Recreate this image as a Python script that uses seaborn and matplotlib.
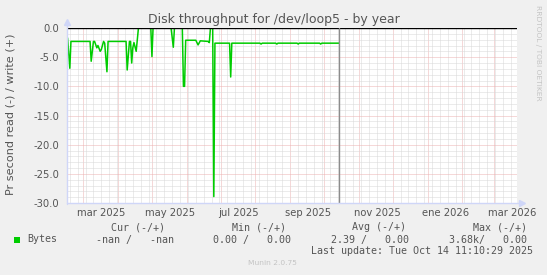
import matplotlib
matplotlib.use("Agg")
import matplotlib.pyplot as plt
import matplotlib.dates as mdates
from matplotlib.patches import Rectangle
from matplotlib.transforms import blended_transform_factory
import seaborn as sns
import pandas as pd

# ---------------- data ----------------
dates = ["2025-02-15", "2025-02-17", "2025-02-18", "2025-03-07", "2025-03-08",
         "2025-03-10", "2025-03-11", "2025-03-13", "2025-03-14", "2025-03-16",
         "2025-03-17", "2025-03-19", "2025-03-20", "2025-03-22", "2025-03-23",
         "2025-04-08", "2025-04-09", "2025-04-11", "2025-04-12", "2025-04-13",
         "2025-04-14", "2025-04-15", "2025-04-17", "2025-04-19", "2025-04-30",
         "2025-05-01", "2025-05-02", "2025-05-18", "2025-05-20", "2025-05-21",
         "2025-05-28", "2025-05-29", "2025-05-30", "2025-05-31", "2025-06-09",
         "2025-06-11", "2025-06-13", "2025-06-20", "2025-06-21", "2025-06-22",
         "2025-06-24", "2025-06-25", "2025-06-26", "2025-07-09", "2025-07-10",
         "2025-07-11", "2025-08-05", "2025-08-06", "2025-08-07", "2025-08-19",
         "2025-08-20", "2025-08-21", "2025-09-07", "2025-09-08", "2025-09-09",
         "2025-09-27", "2025-09-28", "2025-09-29", "2025-10-14"]
read_values = [-1.7, -6.9, -2.3, -2.3, -5.7,
               -2.3, -2.3, -3.4, -3.0, -4.0,
               -3.7, -2.3, -2.6, -7.5, -2.3,
               -2.3, -7.2, -2.3, -2.3, -6.0,
               -3.4, -2.5, -4.0, 0.0, 0.0,
               -4.9, 0.0, 0.0, -3.3, 0.0,
               0.0, -10.0, -10.0, -2.1, -2.1,
               -2.9, -2.2, -2.3, -2.5, 0.0,
               0.0, -28.9, -2.6, -2.6, -8.4,
               -2.6, -2.6, -2.75, -2.6, -2.6,
               -2.75, -2.6, -2.6, -2.75, -2.6,
               -2.6, -2.75, -2.6, -2.6]

month_labels = ["mar 2025", "may 2025", "jul 2025", "sep 2025",
                "nov 2025", "ene 2026", "mar 2026"]
month_label_dates = ["2025-03-17", "2025-05-17", "2025-07-17", "2025-09-17",
                     "2025-11-17", "2026-01-17", "2026-03-17"]
y_ticks = [0, -5, -10, -15, -20, -25, -30]

title = "Disk throughput for /dev/loop5 - by year"
ylabel = "Pr second read (-) / write (+)"
legend_name = "Bytes"
col_headers = ["Cur (-/+)", "Min (-/+)", "Avg (-/+)", "Max (-/+)"]
col_values = ["-nan /   -nan", "0.00 /   0.00", "2.39 /   0.00", "3.68k/   0.00"]
last_update = "Last update: Tue Oct 14 11:10:29 2025"
now_time = "2025-10-14 11:10:29"
x_start, x_end = "2025-02-14 12:00", "2026-03-21 12:00"

# ---------------- style ----------------
sns.set_theme(style="white")
plt.rcParams["font.family"] = ["DejaVu Sans"]
plt.rcParams["axes.unicode_minus"] = False

W, H = 547, 275
BG = "#F0F0F0"
FONT = "#555555"
AXIS = "#CFD6F8"
MGRID = "#ECB2B2"
GRID = "#D9D9D9"
GREEN = "#00CC00"

fig = plt.figure(figsize=(W / 100, H / 100), dpi=100, facecolor=BG)
ax = fig.add_axes([67 / W, 72 / H, 450 / W, 175 / H])
ax.set_facecolor("white")

df = pd.DataFrame({"date": pd.to_datetime(dates), "value": read_values})
sns.lineplot(data=df, x="date", y="value", ax=ax, color=GREEN, lw=1.1, zorder=3)

ax.set_xlim(pd.Timestamp(x_start), pd.Timestamp(x_end))
ax.set_ylim(-30, 0)

# grids
ax.xaxis.set_major_locator(mdates.MonthLocator())
ax.xaxis.set_minor_locator(mdates.WeekdayLocator(byweekday=mdates.MO))
ax.xaxis.set_major_formatter(plt.NullFormatter())
ax.set_yticks(y_ticks)
ax.set_yticks(range(-30, 1), minor=True)
ax.set_yticklabels([f"{v:.1f}" for v in y_ticks])
dot = (0, (1, 1))
ax.grid(True, which="minor", color=GRID, lw=0.72, ls=dot, zorder=0)
ax.grid(True, which="major", color=MGRID, lw=0.72, ls=dot, zorder=0)
ax.set_axisbelow(True)

ax.tick_params(axis="x", which="major", length=2.5, width=0.72, color=MGRID,
               direction="out", pad=0)
ax.tick_params(axis="x", which="minor", length=0)
ax.tick_params(axis="y", which="major", length=2, width=0.72, color=MGRID,
               direction="out", pad=3.5, labelsize=7.2, labelcolor=FONT)
ax.tick_params(axis="y", which="minor", length=0)
ax.set_xlabel("")
ax.set_ylabel("")
for s in ax.spines.values():
    s.set_visible(False)

# zero line and "now" line
ax.axhline(0, color="black", lw=1.0, zorder=4)
ax.axvline(pd.Timestamp(now_time), color="#8C8C8C", lw=1.0, zorder=4)

# axes with arrows
ax.plot([0, 0], [-0.005, 1.03], transform=ax.transAxes, color=AXIS, lw=1.0,
        clip_on=False, zorder=5)
ax.plot([0, 1.008], [0, 0], transform=ax.transAxes, color=AXIS, lw=1.0,
        clip_on=False, zorder=5)
ax.plot([0], [1.035], transform=ax.transAxes, marker="^", ms=4.5, color=AXIS,
        clip_on=False, zorder=5, mec=AXIS)
ax.plot([1.012], [0], transform=ax.transAxes, marker=">", ms=4.5, color=AXIS,
        clip_on=False, zorder=5, mec=AXIS)

# month labels (centered inside months)
trans = blended_transform_factory(ax.transData, ax.transAxes)
for d, lab in zip(month_label_dates, month_labels):
    ax.text(mdates.date2num(pd.Timestamp(d)), -9.5 / 175, lab, transform=trans,
            ha="center", va="center", fontsize=7.2, color=FONT)

def fx(x):
    return x / W

def fy(y):
    return 1 - y / H

fig.text(fx(273.5), fy(19), title, ha="center", va="center", fontsize=9,
         color=FONT)
fig.text(fx(11), fy(114), ylabel, ha="center", va="center", rotation=90,
         fontsize=8.1, color=FONT)
fig.text(fx(538), fy(53), "RRDTOOL / TOBI OETIKER", ha="center", va="center",
         rotation=270, fontsize=5.4, color="#C4C4C4")
fig.text(fx(272.5), fy(263), "Munin 2.0.75", ha="center", va="center",
         fontsize=5.4, color="#C4C4C4")

mono = "DejaVu Sans Mono"
hdr_x = [111, 232, 352, 473]
val_x = [96, 213, 331, 449]
for x, t in zip(hdr_x, col_headers):
    fig.text(fx(x), fy(227.5), t, ha="left", va="center", fontsize=7.2,
             family=mono, color=FONT)
for x, t in zip(val_x, col_values):
    fig.text(fx(x), fy(239.5), t, ha="left", va="center", fontsize=7.2,
             family=mono, color=FONT)
fig.text(fx(27), fy(239.5), legend_name, ha="left", va="center", fontsize=7.2,
         family=mono, color=FONT)
fig.text(fx(533), fy(251.5), last_update, ha="right", va="center", fontsize=7.2,
         family=mono, color=FONT)
fig.patches.append(Rectangle((fx(14), fy(243)), 6 / W, 6 / H,
                             transform=fig.transFigure, facecolor=GREEN,
                             edgecolor="none"))

fig.savefig("out.png", dpi=100, facecolor=BG)
